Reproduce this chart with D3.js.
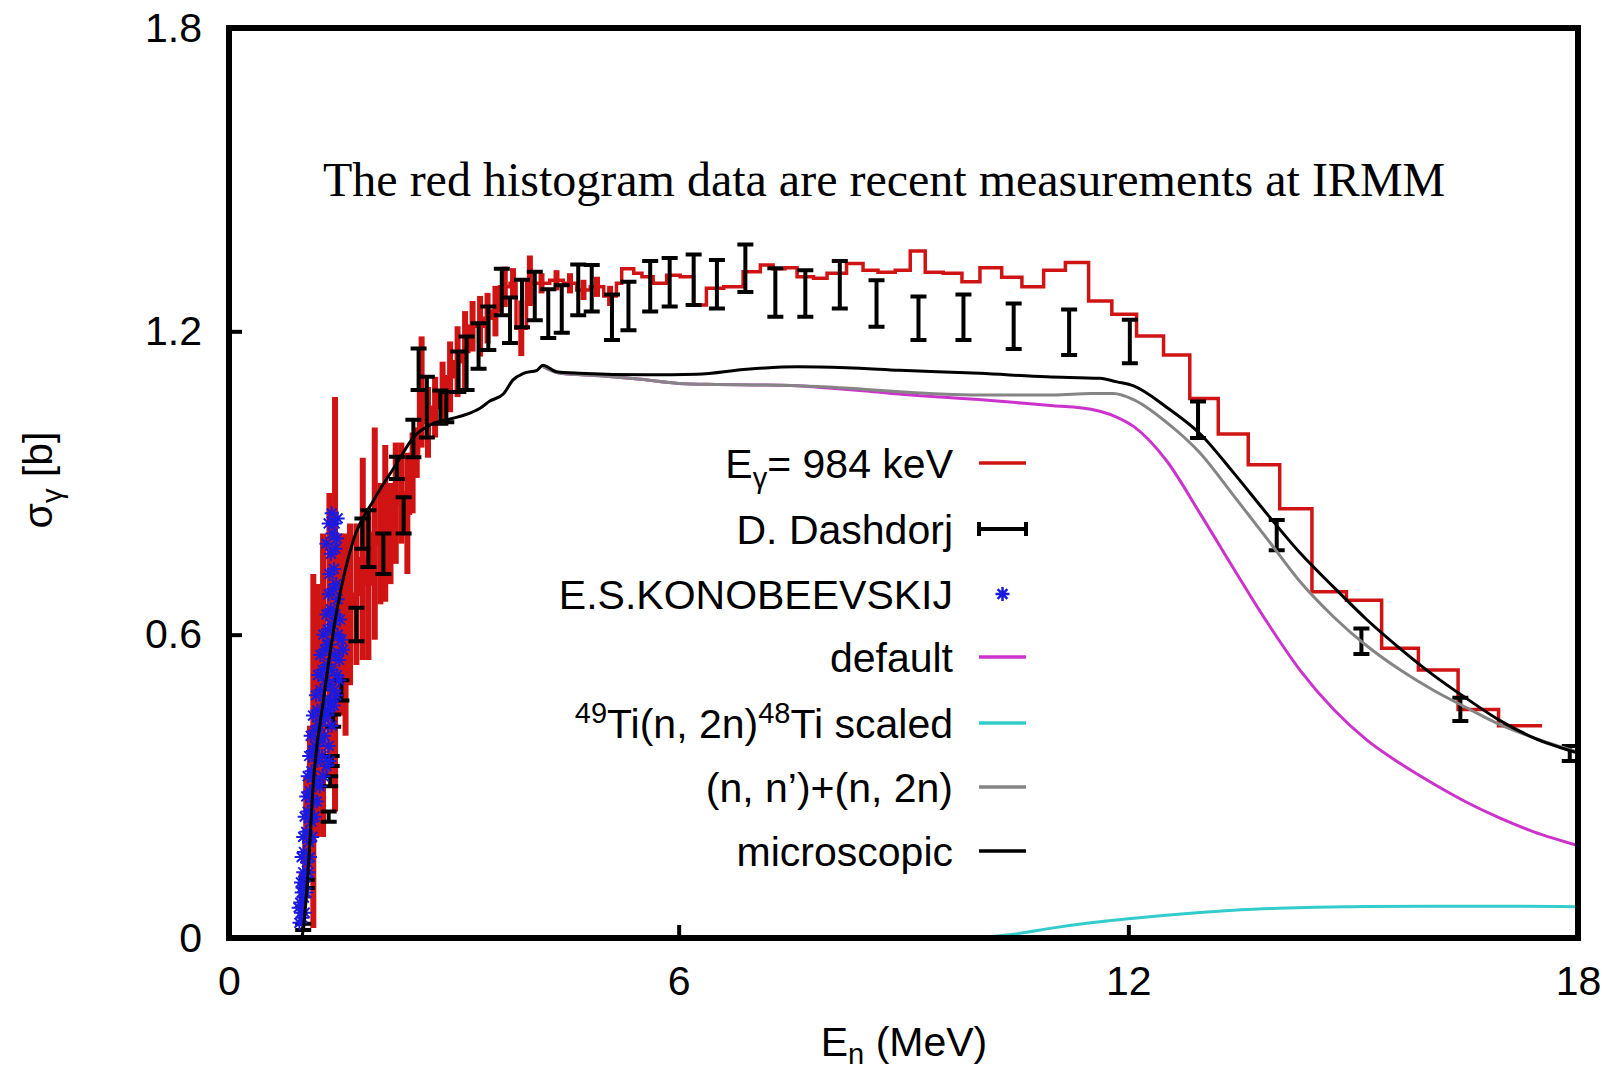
<!DOCTYPE html>
<html>
<head>
<meta charset="utf-8">
<script src="https://cdn.jsdelivr.net/npm/d3@7"></script>
<style>
  html, body { margin: 0; padding: 0; background: #fff; }
  svg { display: block; }
  .axis text { font-family: "Liberation Sans", Arial, sans-serif; font-size: 41px; fill: #000; }
  .axis line { stroke: #000; stroke-width: 4; }
  .axis path { display: none; }
</style>
</head>
<body>
<div id="chart"></div>
<script>
// x ticks, y ticks
const xTicks = [0, 6, 12, 18];
const yTicks = [0, 0.6, 1.2, 1.8];

// red histogram (E_gamma = 984 keV): bin edges, values, error bars
const redEdges = [0.94, 1.00, 1.06, 1.10, 1.15, 1.21, 1.30, 1.38, 1.45, 1.53, 1.58, 1.65, 1.75, 1.82, 1.90,
  1.99, 2.05, 2.12, 2.19, 2.26, 2.34, 2.42, 2.48, 2.53, 2.61, 2.70, 2.80, 2.90, 3.00, 3.10, 3.20, 3.30, 3.40,
  3.50, 3.61, 3.75, 3.83, 3.97, 4.06, 4.28, 4.46, 4.64, 4.82, 5.00, 5.17, 5.24,
  5.40, 5.51, 5.66, 5.84, 6.02, 6.20, 6.37, 6.60, 6.86, 7.09, 7.26, 7.42, 7.58, 7.80, 7.98, 8.24, 8.46, 8.66,
  8.89, 9.09, 9.29, 9.53, 9.78, 10.02, 10.31, 10.58, 10.87, 11.16, 11.47, 11.78, 12.11, 12.47, 12.82, 13.20,
  13.60, 14.02, 14.45, 14.91, 15.38, 15.87, 16.40, 16.94, 17.52];
const redVals = [0.08, 0.20, 0.30, 0.37, 0.45, 0.50, 0.60, 0.66, 0.62, 0.60, 0.66, 0.68, 0.75, 0.70, 0.80,
  0.78, 0.82, 0.80, 0.86, 0.88, 0.84, 0.92, 0.96, 1.08, 1.02, 1.05, 1.08, 1.11, 1.14, 1.16, 1.21, 1.21, 1.226,
  1.24, 1.288, 1.295, 1.206, 1.30, 1.295, 1.301, 1.295, 1.282, 1.288, 1.27, 1.295,
  1.324, 1.315, 1.308, 1.295, 1.311, 1.308, 1.252, 1.285, 1.288, 1.318, 1.331, 1.324, 1.326, 1.308, 1.305,
  1.315, 1.334, 1.321, 1.317, 1.321, 1.359, 1.317, 1.315, 1.298, 1.326, 1.307, 1.288, 1.321, 1.336, 1.260,
  1.234, 1.191, 1.153, 1.067, 0.997, 0.936, 0.849, 0.685, 0.668, 0.573, 0.530, 0.452, 0.420];
const redErr = [0.05, 0.12, 0.12, 0.35, 0.25, 0.30, 0.28, 0.41, 0.18, 0.20, 0.16, 0.14, 0.20, 0.15, 0.21,
  0.12, 0.155, 0.10, 0.12, 0.10, 0.12, 0.08, 0.05, 0.11, 0.07, 0.06, 0.06, 0.07, 0.07, 0.08, 0.05, 0.06, 0.05,
  0.05, 0.04, 0.03, 0.055, 0.05, 0.02, 0.02, 0.02, 0.02, 0.02, 0.02, 0];

// D. Dashdorj: [E, sigma, err]
const dashdorj = [
  [0.99, 0.022, 0.006], [1.04, 0.107, 0.008], [1.33, 0.24, 0.01], [1.35, 0.31, 0.01], [1.37, 0.35, 0.01],
  [1.39, 0.43, 0.012], [1.50, 0.49, 0.02], [1.70, 0.62, 0.033], [1.78, 0.80, 0.03], [1.86, 0.79, 0.056],
  [2.06, 0.76, 0.04], [2.24, 0.93, 0.022], [2.33, 0.836, 0.036], [2.46, 0.988, 0.037], [2.53, 1.125, 0.041],
  [2.64, 1.05, 0.06], [2.82, 1.05, 0.033], [2.90, 1.05, 0.03], [3.06, 1.12, 0.04], [3.17, 1.137, 0.053],
  [3.33, 1.171, 0.045], [3.46, 1.206, 0.043], [3.64, 1.278, 0.046], [3.75, 1.222, 0.045], [3.91, 1.255, 0.047],
  [4.08, 1.27, 0.048], [4.26, 1.235, 0.048], [4.44, 1.244, 0.047], [4.66, 1.282, 0.05], [4.84, 1.285, 0.046],
  [5.11, 1.228, 0.045], [5.33, 1.25, 0.048], [5.62, 1.289, 0.05], [5.88, 1.297, 0.048], [6.20, 1.302, 0.05],
  [6.51, 1.293, 0.048], [6.89, 1.325, 0.047], [7.29, 1.277, 0.048], [7.69, 1.275, 0.046], [8.15, 1.292, 0.047],
  [8.64, 1.255, 0.046], [9.20, 1.226, 0.043], [9.80, 1.228, 0.045], [10.47, 1.21, 0.045], [11.21, 1.198, 0.045],
  [12.02, 1.18, 0.043], [12.93, 1.025, 0.036], [13.98, 0.797, 0.03], [15.11, 0.587, 0.025],
  [16.43, 0.452, 0.023], [17.89, 0.365, 0.015]
];

// E.S.KONOBEEVSKIJ: [E, sigma]
const konobeevskij = [
  [0.94, 0.03], [0.96, 0.05], [0.98, 0.04], [0.95, 0.07], [0.97, 0.09], [1.00, 0.08], [0.96, 0.11], [0.99, 0.13],
  [1.02, 0.12], [0.97, 0.16], [1.00, 0.17], [1.04, 0.15], [0.99, 0.20], [1.03, 0.21], [1.07, 0.19],
  [0.93, 0.06], [1.01, 0.05], [0.98, 0.10], [1.03, 0.09], [1.06, 0.13], [1.08, 0.16], [1.11, 0.20],
  [1.01, 0.24], [1.05, 0.25], [1.10, 0.23], [1.03, 0.28], [1.08, 0.29], [1.13, 0.27], [1.05, 0.32], [1.10, 0.33],
  [1.16, 0.31], [1.21, 0.30], [1.07, 0.36], [1.12, 0.37], [1.18, 0.35], [1.24, 0.36], [1.30, 0.34], [1.09, 0.40],
  [1.15, 0.41], [1.21, 0.39], [1.27, 0.40], [1.33, 0.38], [1.12, 0.44], [1.18, 0.45], [1.24, 0.43], [1.30, 0.44],
  [1.37, 0.42], [1.40, 0.46], [1.14, 0.24], [1.17, 0.27], [1.26, 0.32], [1.34, 0.35], [1.15, 0.38],
  [1.20, 0.42], [1.27, 0.45], [1.34, 0.45],
  [1.16, 0.48], [1.22, 0.49], [1.28, 0.47], [1.34, 0.50], [1.40, 0.49], [1.19, 0.52], [1.25, 0.53], [1.31, 0.54],
  [1.37, 0.53], [1.44, 0.52], [1.22, 0.56], [1.28, 0.57], [1.34, 0.58], [1.41, 0.56], [1.47, 0.55], [1.26, 0.60],
  [1.32, 0.61], [1.38, 0.62], [1.45, 0.60], [1.50, 0.59], [1.30, 0.64], [1.36, 0.65], [1.42, 0.64], [1.48, 0.63],
  [1.33, 0.68], [1.39, 0.69], [1.45, 0.67], [1.36, 0.47], [1.43, 0.48], [1.47, 0.51], [1.52, 0.57],
  [1.29, 0.51], [1.31, 0.58], [1.43, 0.70],
  [1.34, 0.72], [1.40, 0.73], [1.36, 0.76], [1.42, 0.77], [1.38, 0.80], [1.41, 0.82], [1.37, 0.84], [1.44, 0.79],
  [1.30, 0.78], [1.45, 0.83], [1.33, 0.82]
];

// default (magenta)
const defaultCurve = [
  [4.19, 1.130], [4.42, 1.117], [4.95, 1.112], [5.5, 1.105], [6.0, 1.097], [6.5, 1.095], [7.0, 1.094],
  [7.5, 1.093], [8.0, 1.088], [8.5, 1.082], [9.0, 1.075], [9.5, 1.070], [10.0, 1.065], [10.5, 1.059],
  [11.0, 1.053], [11.5, 1.046], [11.62, 1.042], [11.85, 1.030], [12.07, 1.012], [12.51, 0.944], [12.96, 0.839],
  [13.40, 0.732], [13.85, 0.625], [14.29, 0.530], [14.74, 0.452], [15.18, 0.392], [15.63, 0.345],
  [16.07, 0.305], [16.52, 0.268], [16.96, 0.237], [17.41, 0.210], [18.0, 0.183]
];

// 49Ti(n,2n)48Ti scaled (cyan)
const tiCurve = [
  [9.9, 0], [10.5, 0.008], [11.0, 0.020], [11.5, 0.030], [12.0, 0.038], [12.5, 0.045], [13.0, 0.051],
  [13.5, 0.056], [14.0, 0.059], [14.5, 0.061], [15.0, 0.062], [16.0, 0.063], [17.0, 0.063], [18.0, 0.062]
];

// (n,n')+(n,2n) (gray)
const sumCurve = [
  [4.19, 1.130], [4.42, 1.117], [4.95, 1.112], [5.5, 1.105], [6.0, 1.097], [6.5, 1.095], [7.0, 1.094],
  [7.5, 1.093], [8.0, 1.090], [8.5, 1.085], [9.0, 1.080], [9.5, 1.076], [10.0, 1.074], [10.5, 1.074],
  [11.0, 1.074], [11.5, 1.077], [11.8, 1.077], [12.07, 1.065], [12.51, 1.020], [12.96, 0.959], [13.40, 0.876],
  [13.85, 0.790], [14.29, 0.705], [14.74, 0.635], [15.18, 0.578], [15.63, 0.530], [16.07, 0.490],
  [16.52, 0.455], [16.96, 0.422], [17.41, 0.396], [18.0, 0.368]
];

// microscopic (black)
const microCurve = [
  [0.97, 0], [0.99, 0.016], [1.05, 0.12], [1.125, 0.306], [1.26, 0.47], [1.44, 0.649], [1.66, 0.787],
  [1.93, 0.866], [2.24, 0.939], [2.46, 0.99], [2.73, 1.018], [2.99, 1.028], [3.17, 1.036], [3.35, 1.048],
  [3.48, 1.062], [3.66, 1.076], [3.79, 1.104], [3.93, 1.117], [4.11, 1.123], [4.19, 1.133], [4.37, 1.120],
  [4.68, 1.117], [5.57, 1.114], [6.24, 1.115], [6.91, 1.125], [7.58, 1.130], [8.24, 1.128], [8.95, 1.123],
  [10.02, 1.117], [10.91, 1.110], [11.62, 1.107], [11.85, 1.100], [12.07, 1.092], [12.51, 1.050],
  [12.96, 0.997], [13.40, 0.921], [13.85, 0.839], [14.29, 0.762], [14.74, 0.694], [15.18, 0.630],
  [15.63, 0.572], [16.07, 0.520], [16.52, 0.473], [16.96, 0.430], [17.41, 0.396], [18.0, 0.366]
];

const W = 1620, H = 1078;
const plot = { left: 229, right: 1578, top: 28, bottom: 938 };
const RED = '#d01414', MAGENTA = '#cc33cc', CYAN = '#33cccc', GRAY = '#858585', BLUE = '#1a1ae0';

const svg = d3.select('#chart').append('svg')
  .attr('width', W)
  .attr('height', H);

const xScale = d3.scaleLinear().domain([0, 18]).range([plot.left, plot.right]);
const yScale = d3.scaleLinear().domain([0, 1.8]).range([plot.bottom, plot.top]);

svg.append('defs').append('clipPath').attr('id', 'clip')
  .append('rect')
  .attr('x', plot.left).attr('y', plot.top)
  .attr('width', plot.right - plot.left).attr('height', plot.bottom - plot.top);

// axes with inward ticks
svg.append('g')
  .attr('class', 'axis x')
  .attr('transform', `translate(0,${plot.bottom})`)
  .call(d3.axisBottom(xScale).tickValues(xTicks).tickSize(-13).tickPadding(28).tickFormat(d3.format('d')));

svg.append('g')
  .attr('class', 'axis y')
  .attr('transform', `translate(${plot.left},0)`)
  .call(d3.axisLeft(yScale).tickValues(yTicks).tickSize(-13).tickPadding(27).tickFormat(d => d === 0 ? '0' : d3.format('.1f')(d)));

const g = svg.append('g').attr('clip-path', 'url(#clip)');
const line = d3.line().x(d => xScale(d[0])).y(d => yScale(d[1]));

// red histogram
const histPts = redVals.map((v, i) => [redEdges[i], v]);
histPts.push([redEdges[redEdges.length - 1], redVals[redVals.length - 1]]);
g.append('path')
  .datum(histPts)
  .attr('fill', 'none')
  .attr('stroke', RED)
  .attr('stroke-width', 3.5)
  .attr('d', line.curve(d3.curveStepAfter));
line.curve(d3.curveLinear);

g.append('g').selectAll('line')
  .data(redErr.map((e, i) => ({ x: (redEdges[i] + redEdges[i + 1]) / 2, y: redVals[i], e })).filter(d => d.e > 0))
  .enter().append('line')
  .attr('x1', d => xScale(d.x)).attr('x2', d => xScale(d.x))
  .attr('y1', d => yScale(d.y - d.e)).attr('y2', d => yScale(d.y + d.e))
  .attr('stroke', RED)
  .attr('stroke-width', 6);

// Dashdorj error bars
const cap = 8;
const errPath = d => {
  const x = xScale(d[0]), y0 = yScale(d[1] - d[2]), y1 = yScale(d[1] + d[2]);
  return `M${x},${y0}V${y1}M${x - cap},${y0}H${x + cap}M${x - cap},${y1}H${x + cap}`;
};
g.append('g').selectAll('path')
  .data(dashdorj)
  .enter().append('path')
  .attr('d', errPath)
  .attr('fill', 'none')
  .attr('stroke', '#000')
  .attr('stroke-width', 4);

// Konobeevskij asterisks
const star = (x, y, r) => `M${x - r},${y}H${x + r}M${x},${y - r}V${y + r}` +
  `M${x - r * 0.7},${y - r * 0.7}L${x + r * 0.7},${y + r * 0.7}M${x - r * 0.7},${y + r * 0.7}L${x + r * 0.7},${y - r * 0.7}`;
g.append('g').selectAll('path')
  .data(konobeevskij)
  .enter().append('path')
  .attr('d', d => star(xScale(d[0]), yScale(d[1]), 7))
  .attr('stroke', BLUE)
  .attr('stroke-width', 2);

// model curves
[[defaultCurve, MAGENTA], [tiCurve, CYAN], [sumCurve, GRAY], [microCurve, '#000']].forEach(([data, color]) => {
  g.append('path')
    .datum(data)
    .attr('fill', 'none')
    .attr('stroke', color)
    .attr('stroke-width', 3)
    .attr('stroke-linejoin', 'round')
    .attr('d', line.curve(d3.curveMonotoneX));
});

// frame
svg.append('rect')
  .attr('x', plot.left).attr('y', plot.top)
  .attr('width', plot.right - plot.left).attr('height', plot.bottom - plot.top)
  .attr('fill', 'none')
  .attr('stroke', '#000')
  .attr('stroke-width', 6);

// legend
const sans = '"Liberation Sans", Arial, sans-serif';
const legend = svg.append('g').attr('font-family', sans).attr('font-size', 41);
const rows = [463, 529, 594, 657, 723, 787, 851];
const textX = 953, sx0 = 979, sx1 = 1026;

const addText = (y) => legend.append('text').attr('x', textX).attr('y', y + 15).attr('text-anchor', 'end');

let t = addText(rows[0]);
t.append('tspan').text('E');
t.append('tspan').attr('font-size', 29).attr('dy', 10).text('γ');
t.append('tspan').attr('dy', -10).text('= 984 keV');
addText(rows[1]).text('D. Dashdorj');
addText(rows[2]).text('E.S.KONOBEEVSKIJ');
addText(rows[3]).text('default');
t = addText(rows[4]);
t.append('tspan').attr('font-size', 29).attr('dy', -15).text('49');
t.append('tspan').attr('dy', 15).text('Ti(n, 2n)');
t.append('tspan').attr('font-size', 29).attr('dy', -15).text('48');
t.append('tspan').attr('dy', 15).text('Ti scaled');
addText(rows[5]).text('(n, n’)+(n, 2n)');
addText(rows[6]).text('microscopic');

const sample = (y, color) => legend.append('line')
  .attr('x1', sx0).attr('x2', sx1).attr('y1', y).attr('y2', y)
  .attr('stroke', color).attr('stroke-width', 3.5);
sample(rows[0], RED);
legend.append('path')
  .attr('d', `M${sx0},${rows[1]}H${sx1}M${sx0},${rows[1] - 7}V${rows[1] + 7}M${sx1},${rows[1] - 7}V${rows[1] + 7}`)
  .attr('stroke', '#000').attr('stroke-width', 4).attr('fill', 'none');
legend.append('path')
  .attr('d', star((sx0 + sx1) / 2, rows[2], 7))
  .attr('stroke', BLUE).attr('stroke-width', 2.5);
sample(rows[3], MAGENTA);
sample(rows[4], CYAN);
sample(rows[5], GRAY);
sample(rows[6], '#000');

// annotation
svg.append('text')
  .attr('x', 323).attr('y', 196)
  .attr('font-family', '"Liberation Serif", "Times New Roman", serif')
  .attr('font-size', 48)
  .text('The red histogram data are recent measurements at IRMM');

// axis labels
const xl = svg.append('text')
  .attr('x', 904).attr('y', 1056)
  .attr('text-anchor', 'middle')
  .attr('font-family', sans).attr('font-size', 41);
xl.append('tspan').text('E');
xl.append('tspan').attr('font-size', 29).attr('dy', 8).text('n');
xl.append('tspan').attr('dy', -8).text(' (MeV)');

const yl = svg.append('text')
  .attr('transform', 'translate(52,480) rotate(-90)')
  .attr('text-anchor', 'middle')
  .attr('font-family', sans).attr('font-size', 41);
yl.append('tspan').text('σ');
yl.append('tspan').attr('font-size', 29).attr('dy', 10).text('γ');
yl.append('tspan').attr('dy', -10).text(' [b]');
</script>
</body>
</html>
